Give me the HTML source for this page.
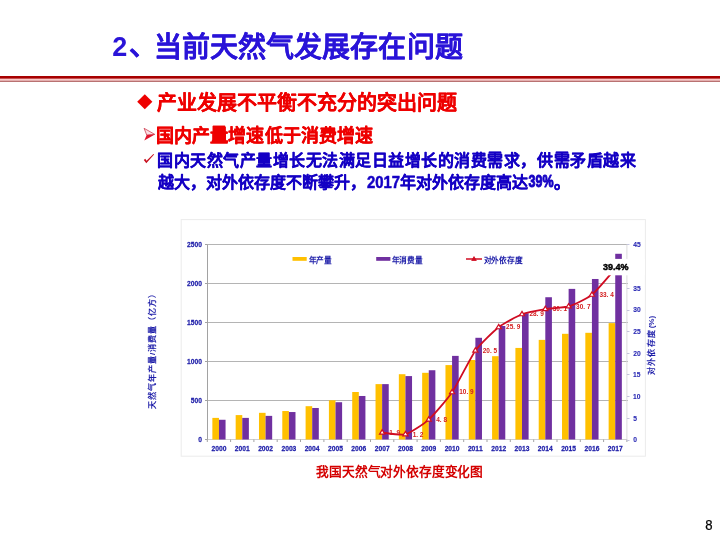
<!DOCTYPE html>
<html lang="zh-CN"><head><meta charset="utf-8"><title>当前天然气发展存在问题</title><style>
html,body{margin:0;padding:0;background:#fff;}
body{width:720px;height:540px;overflow:hidden;font-family:"Liberation Sans",sans-serif;}
svg{display:block;will-change:transform;}
svg text{font-family:"Liberation Sans",sans-serif;}
</style></head><body>
<svg width="720" height="540" viewBox="0 0 720 540" lang="zh-CN">
<rect width="720" height="540" fill="#fff"/>
<text transform="translate(112.26 55.60)" x="0.00" y="0" font-size="27.00" font-weight="700" fill="#2a14d8">2</text>
<text transform="translate(128.58 54.60)" x="0.00" y="0" font-size="28.00" font-weight="700" fill="#2a14d8" stroke="#2a14d8" stroke-width="0.15" stroke-linejoin="round">、</text>
<text transform="translate(154.13 57.10)" x="0.00 28.05 56.09 84.14 112.19 140.23 168.28 196.33 224.37 252.42 280.47" y="0" font-size="28.00" font-weight="700" fill="#2a14d8" stroke="#2a14d8" stroke-width="0.15" stroke-linejoin="round">当前天然气发展存在问题</text>
<rect x="0" y="76" width="720" height="2.8" fill="#a80000"/>
<rect x="0" y="78.8" width="720" height="1.9" fill="#fbc9c9"/>
<rect x="0" y="80.7" width="720" height="1.1" fill="#a85050"/>
<polygon points="144.8,94.2 152.4,101.7 144.8,109.3 137.2,101.7" fill="#ee0000"/>
<text transform="translate(157.02 110.00)" x="0.00 20.00 40.00 60.00 79.99 99.99 119.99 139.99 159.99 179.99 199.99 219.98 239.98 259.98 279.98" y="0" font-size="20.00" font-weight="700" fill="#ee0000" stroke="#ee0000" stroke-width="0.20" stroke-linejoin="round">产业发展不平衡不充分的突出问题</text>
<path d="M144.1,128.3 L154.8,134.4 L146.7,135 Z" fill="#fbdde3" stroke="#c8283c" stroke-width="0.7" stroke-linejoin="round"/>
<path d="M146.7,135 L154.8,134.4 L144.3,140.6 Z" fill="#e0142c"/>
<text transform="translate(156.32 142.20)" x="0.00 18.03 36.06 54.10 72.13 90.16 108.19 126.23 144.26 162.29 180.32 198.36" y="0" font-size="18.00" font-weight="900" fill="#ee0000" stroke="#ee0000" stroke-width="0.35" stroke-linejoin="round">国内产量增速低于消费增速</text>
<path d="M214.2,127.1 H225.8 V131.8 H227.7 V133.8 H225.8 V140.3 H228 V142.4 H212 V140.3 H214.2 V133.8 H211.7 V131.8 H214.2 Z" fill="#ee0000"/>
<path d="M143.8,160 L145.3,158.8 L146.5,160.7 L153.4,153.9 L154.1,154.5 L146.3,163.3 Z" fill="#c8101e"/>
<text transform="translate(157.06 166.30)" x="0.00 16.52 33.04 49.56 66.08 82.60 99.12 115.63 132.15 148.67 165.19 181.71 198.23 214.75 231.27 247.79 264.31 280.83 297.35 313.87 330.39 346.90 363.42 379.94 396.46 412.98 429.50 446.02 462.54" y="0" font-size="16.00" font-weight="900" fill="#1400c4" stroke="#1400c4" stroke-width="0.30" stroke-linejoin="round">国内天然气产量增长无法满足日益增长的消费需求，供需矛盾越来</text>
<text transform="translate(157.72 188.30)" x="0.00 16.00 32.00 48.00 64.00 80.00 96.00 112.00 128.00 144.00 160.00 176.00 192.00" y="0" font-size="16.00" font-weight="900" fill="#1400c4" stroke="#1400c4" stroke-width="0.30" stroke-linejoin="round">越大，对外依存度不断攀升，</text>
<text transform="translate(366.98 187.60) scale(0.9300 1)" x="0.00 8.90 17.80 26.70" y="0" font-size="16.00" font-weight="700" fill="#1400c4" stroke="#1400c4" stroke-width="0.50" stroke-linejoin="round">2017</text>
<text transform="translate(400.12 188.30)" x="0.00 16.00 32.00 48.00 64.00 80.00 96.00 112.00" y="0" font-size="16.00" font-weight="900" fill="#1400c4" stroke="#1400c4" stroke-width="0.30" stroke-linejoin="round">年对外依存度高达</text>
<text transform="translate(528.61 187.30) scale(0.7600 1)" x="0.00 9.12 18.24" y="0" font-size="16.40" font-weight="700" fill="#1400c4" stroke="#1400c4" stroke-width="1.00" stroke-linejoin="round">39%</text>
<text transform="translate(553.58 188.30)" x="0.00" y="0" font-size="16.00" font-weight="900" fill="#1400c4" stroke="#1400c4" stroke-width="0.30" stroke-linejoin="round">。</text>
<rect x="181.2" y="219.6" width="464.2" height="236.6" fill="#fff" stroke="#ececec" stroke-width="1"/>
<g stroke="#b4b4b4" stroke-width="1"><line x1="207.3" y1="400.5" x2="628" y2="400.5"/><line x1="207.3" y1="361.5" x2="628" y2="361.5"/><line x1="207.3" y1="322.5" x2="628" y2="322.5"/><line x1="207.3" y1="283.5" x2="628" y2="283.5"/><line x1="207.3" y1="244.5" x2="628" y2="244.5"/></g>
<line x1="207.3" y1="439.5" x2="626.9" y2="439.5" stroke="#cfcfcf" stroke-width="1"/>
<g stroke="#a2a2a2" stroke-width="1"><line x1="207.5" y1="244.5" x2="207.5" y2="439.5"/><line x1="205" y1="439.5" x2="207.5" y2="439.5"/><line x1="205" y1="400.5" x2="207.5" y2="400.5"/><line x1="205" y1="361.5" x2="207.5" y2="361.5"/><line x1="205" y1="322.5" x2="207.5" y2="322.5"/><line x1="205" y1="283.5" x2="207.5" y2="283.5"/><line x1="205" y1="244.5" x2="207.5" y2="244.5"/><line x1="207.3" y1="439.5" x2="207.3" y2="442.0"/><line x1="230.6" y1="439.5" x2="230.6" y2="442.0"/><line x1="253.9" y1="439.5" x2="253.9" y2="442.0"/><line x1="277.2" y1="439.5" x2="277.2" y2="442.0"/><line x1="300.5" y1="439.5" x2="300.5" y2="442.0"/><line x1="323.9" y1="439.5" x2="323.9" y2="442.0"/><line x1="347.2" y1="439.5" x2="347.2" y2="442.0"/><line x1="370.5" y1="439.5" x2="370.5" y2="442.0"/><line x1="393.8" y1="439.5" x2="393.8" y2="442.0"/><line x1="417.1" y1="439.5" x2="417.1" y2="442.0"/><line x1="440.4" y1="439.5" x2="440.4" y2="442.0"/><line x1="463.7" y1="439.5" x2="463.7" y2="442.0"/><line x1="487.0" y1="439.5" x2="487.0" y2="442.0"/><line x1="510.3" y1="439.5" x2="510.3" y2="442.0"/><line x1="533.7" y1="439.5" x2="533.7" y2="442.0"/><line x1="557.0" y1="439.5" x2="557.0" y2="442.0"/><line x1="580.3" y1="439.5" x2="580.3" y2="442.0"/><line x1="603.6" y1="439.5" x2="603.6" y2="442.0"/><line x1="626.9" y1="439.5" x2="626.9" y2="442.0"/></g>
<line x1="626.9" y1="244.5" x2="626.9" y2="439.5" stroke="#dcdcdc" stroke-width="1"/>
<g stroke="#c4c4dc" stroke-width="1"><line x1="626.9" y1="440.5" x2="629.5" y2="440.5"/><line x1="626.9" y1="418.5" x2="629.5" y2="418.5"/><line x1="626.9" y1="396.5" x2="629.5" y2="396.5"/><line x1="626.9" y1="374.5" x2="629.5" y2="374.5"/><line x1="626.9" y1="353.5" x2="629.5" y2="353.5"/><line x1="626.9" y1="331.5" x2="629.5" y2="331.5"/><line x1="626.9" y1="310.5" x2="629.5" y2="310.5"/><line x1="626.9" y1="288.5" x2="629.5" y2="288.5"/><line x1="626.9" y1="266.5" x2="629.5" y2="266.5"/><line x1="626.9" y1="244.5" x2="629.5" y2="244.5"/></g>
<g fill="#ffc000"><rect x="212.36" y="417.89" width="6.60" height="21.61"/><rect x="235.67" y="415.09" width="6.60" height="24.41"/><rect x="258.98" y="412.82" width="6.60" height="26.68"/><rect x="282.29" y="411.03" width="6.60" height="28.47"/><rect x="305.60" y="406.19" width="6.60" height="33.31"/><rect x="328.91" y="400.27" width="6.60" height="39.23"/><rect x="352.22" y="392.00" width="6.60" height="47.50"/><rect x="375.53" y="384.12" width="6.60" height="55.38"/><rect x="398.84" y="374.21" width="6.60" height="65.29"/><rect x="422.16" y="372.81" width="6.60" height="66.69"/><rect x="445.47" y="365.09" width="6.60" height="74.41"/><rect x="468.78" y="360.02" width="6.60" height="79.48"/><rect x="492.09" y="356.20" width="6.60" height="83.30"/><rect x="515.40" y="347.93" width="6.60" height="91.57"/><rect x="538.71" y="339.89" width="6.60" height="99.61"/><rect x="562.02" y="333.81" width="6.60" height="105.69"/><rect x="585.33" y="332.80" width="6.60" height="106.70"/><rect x="608.64" y="323.12" width="6.60" height="116.38"/></g>
<g fill="#7030a0"><rect x="218.96" y="419.77" width="6.60" height="19.73"/><rect x="242.27" y="417.89" width="6.60" height="21.61"/><rect x="265.58" y="415.87" width="6.60" height="23.63"/><rect x="288.89" y="412.04" width="6.60" height="27.46"/><rect x="312.20" y="407.99" width="6.60" height="31.51"/><rect x="335.51" y="402.22" width="6.60" height="37.28"/><rect x="358.82" y="395.98" width="6.60" height="43.52"/><rect x="382.13" y="384.12" width="6.60" height="55.38"/><rect x="405.44" y="376.09" width="6.60" height="63.41"/><rect x="428.76" y="370.24" width="6.60" height="69.26"/><rect x="452.07" y="355.88" width="6.60" height="83.62"/><rect x="475.38" y="337.79" width="6.60" height="101.71"/><rect x="498.69" y="326.01" width="6.60" height="113.49"/><rect x="522.00" y="313.22" width="6.60" height="126.28"/><rect x="545.31" y="297.23" width="6.60" height="142.27"/><rect x="568.62" y="288.88" width="6.60" height="150.62"/><rect x="591.93" y="278.98" width="6.60" height="160.52"/><rect x="615.24" y="253.78" width="6.60" height="185.72"/></g>
<text transform="translate(198.24 442.30) scale(0.8600 1)" x="0.00" y="0" font-size="7.80" font-weight="700" fill="#1c1ca8" stroke="#1c1ca8" stroke-width="0.25" stroke-linejoin="round">0</text>
<text transform="translate(190.78 403.30) scale(0.8600 1)" x="0.00 4.34 8.68" y="0" font-size="7.80" font-weight="700" fill="#1c1ca8" stroke="#1c1ca8" stroke-width="0.25" stroke-linejoin="round">500</text>
<text transform="translate(187.05 364.30) scale(0.8600 1)" x="0.00 4.34 8.68 13.01" y="0" font-size="7.80" font-weight="700" fill="#1c1ca8" stroke="#1c1ca8" stroke-width="0.25" stroke-linejoin="round">1000</text>
<text transform="translate(187.05 325.30) scale(0.8600 1)" x="0.00 4.34 8.68 13.01" y="0" font-size="7.80" font-weight="700" fill="#1c1ca8" stroke="#1c1ca8" stroke-width="0.25" stroke-linejoin="round">1500</text>
<text transform="translate(187.05 286.30) scale(0.8600 1)" x="0.00 4.34 8.68 13.01" y="0" font-size="7.80" font-weight="700" fill="#1c1ca8" stroke="#1c1ca8" stroke-width="0.25" stroke-linejoin="round">2000</text>
<text transform="translate(187.05 247.30) scale(0.8600 1)" x="0.00 4.34 8.68 13.01" y="0" font-size="7.80" font-weight="700" fill="#1c1ca8" stroke="#1c1ca8" stroke-width="0.25" stroke-linejoin="round">2500</text>
<text transform="translate(633.13 442.30) scale(0.8600 1)" x="0.00" y="0" font-size="7.80" font-weight="700" fill="#2a2ab4" stroke="#2a2ab4" stroke-width="0.10" stroke-linejoin="round">0</text>
<text transform="translate(633.19 420.63) scale(0.8600 1)" x="0.00" y="0" font-size="7.80" font-weight="700" fill="#2a2ab4" stroke="#2a2ab4" stroke-width="0.10" stroke-linejoin="round">5</text>
<text transform="translate(632.98 398.97) scale(0.8600 1)" x="0.00 4.34" y="0" font-size="7.80" font-weight="700" fill="#2a2ab4" stroke="#2a2ab4" stroke-width="0.10" stroke-linejoin="round">10</text>
<text transform="translate(632.98 377.30) scale(0.8600 1)" x="0.00 4.34" y="0" font-size="7.80" font-weight="700" fill="#2a2ab4" stroke="#2a2ab4" stroke-width="0.10" stroke-linejoin="round">15</text>
<text transform="translate(633.17 355.63) scale(0.8600 1)" x="0.00 4.34" y="0" font-size="7.80" font-weight="700" fill="#2a2ab4" stroke="#2a2ab4" stroke-width="0.10" stroke-linejoin="round">20</text>
<text transform="translate(633.17 333.97) scale(0.8600 1)" x="0.00 4.34" y="0" font-size="7.80" font-weight="700" fill="#2a2ab4" stroke="#2a2ab4" stroke-width="0.10" stroke-linejoin="round">25</text>
<text transform="translate(633.25 312.30) scale(0.8600 1)" x="0.00 4.34" y="0" font-size="7.80" font-weight="700" fill="#2a2ab4" stroke="#2a2ab4" stroke-width="0.10" stroke-linejoin="round">30</text>
<text transform="translate(633.25 290.63) scale(0.8600 1)" x="0.00 4.34" y="0" font-size="7.80" font-weight="700" fill="#2a2ab4" stroke="#2a2ab4" stroke-width="0.10" stroke-linejoin="round">35</text>
<text transform="translate(633.30 247.30) scale(0.8600 1)" x="0.00 4.34" y="0" font-size="7.80" font-weight="700" fill="#2a2ab4" stroke="#2a2ab4" stroke-width="0.10" stroke-linejoin="round">45</text>
<text transform="translate(211.52 450.80) scale(0.8600 1)" x="0.00 4.34 8.68 13.01" y="0" font-size="7.80" font-weight="700" fill="#1c1ca8" stroke="#1c1ca8" stroke-width="0.25" stroke-linejoin="round">2000</text>
<text transform="translate(234.78 450.80) scale(0.8600 1)" x="0.00 4.34 8.68 13.01" y="0" font-size="7.80" font-weight="700" fill="#1c1ca8" stroke="#1c1ca8" stroke-width="0.25" stroke-linejoin="round">2001</text>
<text transform="translate(258.13 450.80) scale(0.8600 1)" x="0.00 4.34 8.68 13.01" y="0" font-size="7.80" font-weight="700" fill="#1c1ca8" stroke="#1c1ca8" stroke-width="0.25" stroke-linejoin="round">2002</text>
<text transform="translate(281.43 450.80) scale(0.8600 1)" x="0.00 4.34 8.68 13.01" y="0" font-size="7.80" font-weight="700" fill="#1c1ca8" stroke="#1c1ca8" stroke-width="0.25" stroke-linejoin="round">2003</text>
<text transform="translate(304.64 450.80) scale(0.8600 1)" x="0.00 4.34 8.68 13.01" y="0" font-size="7.80" font-weight="700" fill="#1c1ca8" stroke="#1c1ca8" stroke-width="0.25" stroke-linejoin="round">2004</text>
<text transform="translate(328.03 450.80) scale(0.8600 1)" x="0.00 4.34 8.68 13.01" y="0" font-size="7.80" font-weight="700" fill="#1c1ca8" stroke="#1c1ca8" stroke-width="0.25" stroke-linejoin="round">2005</text>
<text transform="translate(351.37 450.80) scale(0.8600 1)" x="0.00 4.34 8.68 13.01" y="0" font-size="7.80" font-weight="700" fill="#1c1ca8" stroke="#1c1ca8" stroke-width="0.25" stroke-linejoin="round">2006</text>
<text transform="translate(374.70 450.80) scale(0.8600 1)" x="0.00 4.34 8.68 13.01" y="0" font-size="7.80" font-weight="700" fill="#1c1ca8" stroke="#1c1ca8" stroke-width="0.25" stroke-linejoin="round">2007</text>
<text transform="translate(397.97 450.80) scale(0.8600 1)" x="0.00 4.34 8.68 13.01" y="0" font-size="7.80" font-weight="700" fill="#1c1ca8" stroke="#1c1ca8" stroke-width="0.25" stroke-linejoin="round">2008</text>
<text transform="translate(421.30 450.80) scale(0.8600 1)" x="0.00 4.34 8.68 13.01" y="0" font-size="7.80" font-weight="700" fill="#1c1ca8" stroke="#1c1ca8" stroke-width="0.25" stroke-linejoin="round">2009</text>
<text transform="translate(444.63 450.80) scale(0.8600 1)" x="0.00 4.34 8.68 13.01" y="0" font-size="7.80" font-weight="700" fill="#1c1ca8" stroke="#1c1ca8" stroke-width="0.25" stroke-linejoin="round">2010</text>
<text transform="translate(467.89 450.80) scale(0.8600 1)" x="0.00 4.34 8.68 13.01" y="0" font-size="7.80" font-weight="700" fill="#1c1ca8" stroke="#1c1ca8" stroke-width="0.25" stroke-linejoin="round">2011</text>
<text transform="translate(491.25 450.80) scale(0.8600 1)" x="0.00 4.34 8.68 13.01" y="0" font-size="7.80" font-weight="700" fill="#1c1ca8" stroke="#1c1ca8" stroke-width="0.25" stroke-linejoin="round">2012</text>
<text transform="translate(514.54 450.80) scale(0.8600 1)" x="0.00 4.34 8.68 13.01" y="0" font-size="7.80" font-weight="700" fill="#1c1ca8" stroke="#1c1ca8" stroke-width="0.25" stroke-linejoin="round">2013</text>
<text transform="translate(537.75 450.80) scale(0.8600 1)" x="0.00 4.34 8.68 13.01" y="0" font-size="7.80" font-weight="700" fill="#1c1ca8" stroke="#1c1ca8" stroke-width="0.25" stroke-linejoin="round">2014</text>
<text transform="translate(561.14 450.80) scale(0.8600 1)" x="0.00 4.34 8.68 13.01" y="0" font-size="7.80" font-weight="700" fill="#1c1ca8" stroke="#1c1ca8" stroke-width="0.25" stroke-linejoin="round">2015</text>
<text transform="translate(584.48 450.80) scale(0.8600 1)" x="0.00 4.34 8.68 13.01" y="0" font-size="7.80" font-weight="700" fill="#1c1ca8" stroke="#1c1ca8" stroke-width="0.25" stroke-linejoin="round">2016</text>
<text transform="translate(607.81 450.80) scale(0.8600 1)" x="0.00 4.34 8.68 13.01" y="0" font-size="7.80" font-weight="700" fill="#1c1ca8" stroke="#1c1ca8" stroke-width="0.25" stroke-linejoin="round">2017</text>
<text transform="translate(389.33 434.77) scale(0.9000 1)" x="0.00 4.00 8.01" y="0" font-size="7.20" font-weight="700" fill="#d42020">1.9</text>
<text transform="translate(412.64 436.50) scale(0.9000 1)" x="0.00 4.00 8.01" y="0" font-size="7.20" font-weight="700" fill="#d42020">1.2</text>
<text transform="translate(436.26 421.77) scale(0.9000 1)" x="0.00 4.00 8.01" y="0" font-size="7.20" font-weight="700" fill="#d42020">4.8</text>
<text transform="translate(459.26 394.47) scale(0.9000 1)" x="0.00 4.00 8.01 12.01" y="0" font-size="7.20" font-weight="700" fill="#d42020">10.9</text>
<text transform="translate(482.75 352.87) scale(0.9000 1)" x="0.00 4.00 8.01 12.01" y="0" font-size="7.20" font-weight="700" fill="#d42020">20.5</text>
<text transform="translate(506.06 329.47) scale(0.9000 1)" x="0.00 4.00 8.01 12.01" y="0" font-size="7.20" font-weight="700" fill="#d42020">25.9</text>
<text transform="translate(529.38 316.47) scale(0.9000 1)" x="0.00 4.00 8.01 12.01" y="0" font-size="7.20" font-weight="700" fill="#d42020">28.9</text>
<text transform="translate(552.76 311.27) scale(0.9000 1)" x="0.00 4.00 8.01 12.01" y="0" font-size="7.20" font-weight="700" fill="#d42020">30.1</text>
<text transform="translate(576.07 308.67) scale(0.9000 1)" x="0.00 4.00 8.01 12.01" y="0" font-size="7.20" font-weight="700" fill="#d42020">30.7</text>
<text transform="translate(599.38 296.97) scale(0.9000 1)" x="0.00 4.00 8.01 12.01" y="0" font-size="7.20" font-weight="700" fill="#d42020">33.4</text>
<path d="M382.13,432.57 C384.46,432.74 400.78,435.60 405.44,434.30 C410.11,433.00 424.09,423.77 428.76,419.57 C433.42,415.36 447.40,399.16 452.07,392.27 C456.73,385.38 470.72,357.17 475.38,350.67 C480.04,344.17 494.03,330.91 498.69,327.27 C503.35,323.63 517.34,316.09 522.00,314.27 C526.66,312.45 540.65,309.85 545.31,309.07 C549.97,308.29 563.96,307.90 568.62,306.47 C573.28,305.04 587.27,298.54 591.93,294.77 C596.60,291.00 612.91,271.37 615.24,268.77" fill="none" stroke="#d00c22" stroke-width="1.8"/>
<g fill="#fff" stroke="#d00c22" stroke-width="1.2"><path d="M382.13,429.67 l2.6,4.4 h-5.2 z"/><path d="M405.44,431.40 l2.6,4.4 h-5.2 z"/><path d="M428.76,416.67 l2.6,4.4 h-5.2 z"/><path d="M452.07,389.37 l2.6,4.4 h-5.2 z"/><path d="M475.38,347.77 l2.6,4.4 h-5.2 z"/><path d="M498.69,324.37 l2.6,4.4 h-5.2 z"/><path d="M522.00,311.37 l2.6,4.4 h-5.2 z"/><path d="M545.31,306.17 l2.6,4.4 h-5.2 z"/><path d="M568.62,303.57 l2.6,4.4 h-5.2 z"/><path d="M591.93,291.87 l2.6,4.4 h-5.2 z"/></g>
<rect x="601" y="258.9" width="44" height="16.4" fill="#fff"/>
<text transform="translate(603.09 270.10)" x="0.00 5.01 10.01 12.51 17.52" y="0" font-size="9.00" font-weight="700" fill="#000" stroke="#000" stroke-width="0.45" stroke-linejoin="round">39.4%</text>
<rect x="292.5" y="257" width="14.2" height="3.8" fill="#ffc000"/>
<text transform="translate(308.72 262.60)" x="0.00 7.70 15.40" y="0" font-size="7.70" font-weight="700" fill="#1c1ca8">年产量</text>
<rect x="376.2" y="257" width="14.2" height="3.8" fill="#7030a0"/>
<text transform="translate(391.52 262.60)" x="0.00 7.70 15.40 23.10" y="0" font-size="7.70" font-weight="700" fill="#1c1ca8">年消费量</text>
<line x1="466" y1="259" x2="482" y2="259" stroke="#d00c22" stroke-width="1.5"/>
<path d="M474,256.6 l2.3,3.9 h-4.6 z" fill="#d00c22" stroke="#d00c22" stroke-width="0.8"/>
<text transform="translate(483.75 262.60)" x="0.00 7.70 15.40 23.10 30.80" y="0" font-size="7.70" font-weight="700" fill="#1c1ca8">对外依存度</text>
<g transform="translate(154.6 408.3) rotate(-90)"><text transform="translate(-0.23 0.00)" x="0.00 8.93 17.85 26.78 35.71 44.64 53.56 56.64 65.57 74.50 83.42 92.35 101.28 110.21" y="0" font-size="8.10" font-weight="700" fill="#1c1ca8">天然气年产量/消费量（亿方）</text></g>
<g transform="translate(654.3 375.3) rotate(-90)"><text transform="translate(0.00 0.00)" x="0.00 9.30 18.60 27.90 37.20" y="0" font-size="8.00" font-weight="700" fill="#1c1ca8">对外依存度</text><text transform="translate(47.00 0.00)" x="0.00 2.66 9.78" y="0" font-size="8.00" font-weight="700" fill="#1c1ca8">(%)</text></g>
<text transform="translate(316.31 476.10)" x="0.00 12.82 25.65 38.47 51.29 64.12 76.94 89.76 102.59 115.41 128.24 141.06 153.88" y="0" font-size="12.70" font-weight="700" fill="#d40000">我国天然气对外依存度变化图</text>
<text transform="translate(705.23 529.80) scale(0.9000 1)" x="0.00" y="0" font-size="14.60" font-weight="400" fill="#000" stroke="#000" stroke-width="0.25" stroke-linejoin="round">8</text>
</svg>
</body></html>
